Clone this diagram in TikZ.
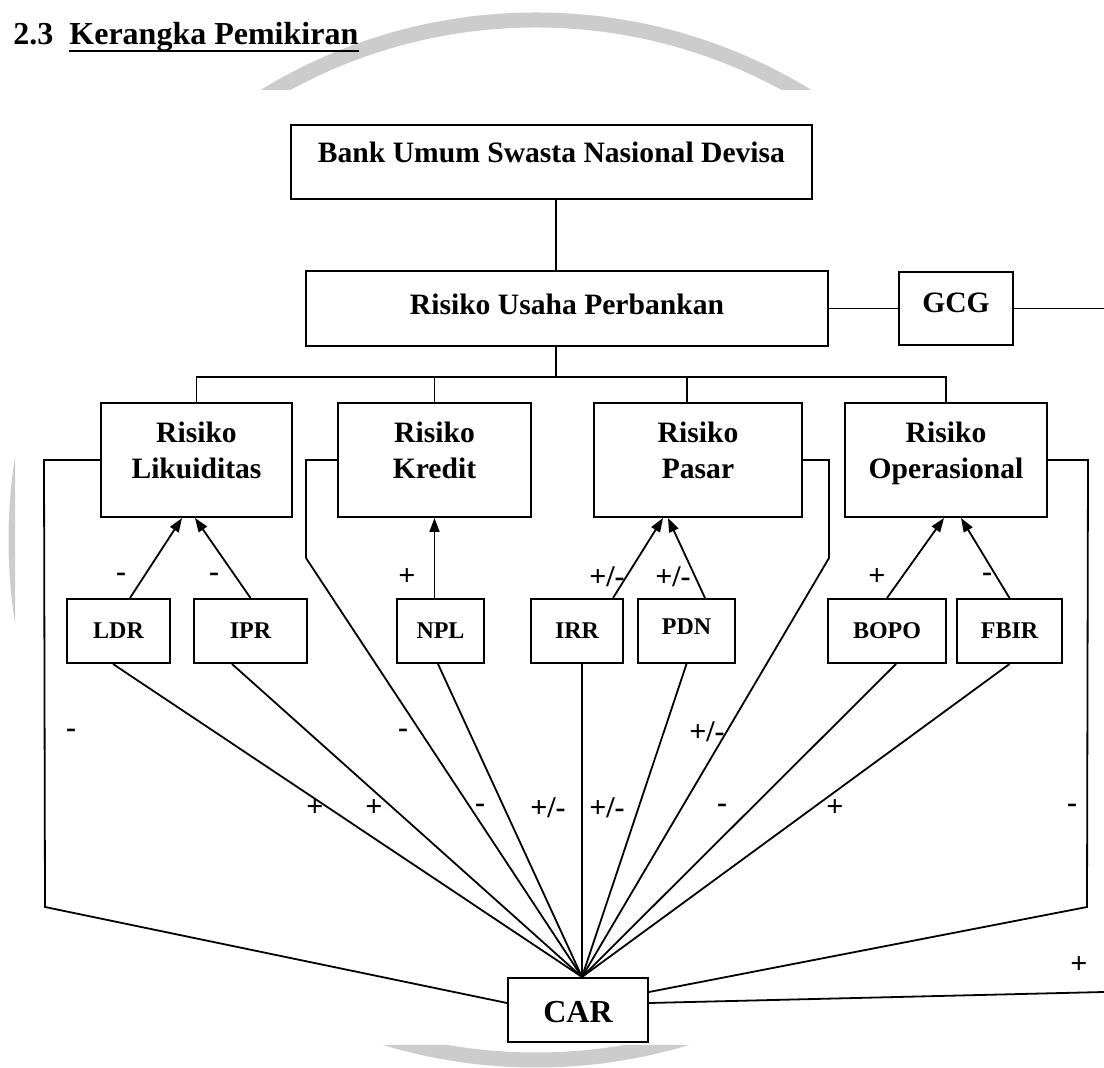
\documentclass[tikz,border=0pt]{standalone}
\usepackage{fontspec}
\setmainfont{Liberation Serif}
\usepackage{tikz}
\usetikzlibrary{arrows.meta,positioning}

\newcommand{\riskname}[2]{\begin{tabular}[b]{@{}c@{}}#1\\#2\end{tabular}}

\begin{document}
\begin{tikzpicture}[x=0.5pt, y=-0.5pt, every node/.style={font=\bfseries}, box/.style={draw,line width=1pt,inner sep=0pt,font=\bfseries\fontsize{14.8}{18}\selectfont}, riskbox/.style={box,minimum height=57pt,text height=30pt,text depth=11pt}, ratio/.style={draw,line width=1pt,inner sep=0pt,minimum height=32pt,text height=9.5pt,text depth=1.5pt,font=\bfseries\fontsize{12}{14}\selectfont}, sign/.style={inner sep=0pt,font=\bfseries\fontsize{15}{17}\selectfont}, link/.style={line width=0.9pt}, arr/.style={link,-{Triangle[length=7pt,width=5pt]}}, wm/.style={draw=black!20,line width=7.5pt}]
\fill[white] (0,0) rectangle (1104,1068);
\useasboundingbox (0,0) rectangle (1104,1068);
% watermark ring, only visible round the pasted figure
\begin{scope}
\clip (0,0) rectangle (1104,90) (0,1045) rectangle (1104,1068) (0,0) rectangle (15,1068);
\draw[wm] (536,540) circle[radius=260pt];
\end{scope}
% heading
\node[anchor=base west,inner sep=0pt,font=\bfseries\fontsize{16}{19}\selectfont] (secno) at (13,45) {2.3};
\node[anchor=base west,inner sep=0pt,font=\bfseries\fontsize{16}{19}\selectfont] (sectitle) at (69,45) {Kerangka Pemikiran};
\draw[line width=1.35pt] ([yshift=-3pt]sectitle.base west) -- ([yshift=-3pt]sectitle.base east);
% top of the tree
\node[box,minimum width=260.5pt,minimum height=37pt,text height=10pt,text depth=9pt] (bank) at (551.5,162) {Bank Umum Swasta Nasional Devisa};
\node[box,minimum width=261pt,minimum height=37.5pt,text height=11pt,text depth=4.5pt] (usaha) at (567,308.5) {Risiko Usaha Perbankan};
\node[box,minimum width=57pt,minimum height=36.5pt,text height=11pt,text depth=6.5pt,right=34.5pt of usaha] (gcg) {GCG};
% risk groups
\node[riskbox,minimum width=95.5pt] (lik) at (196.5,460) {\riskname{Risiko}{Likuiditas}};
\node[riskbox,minimum width=96.5pt] (kre) at (434.5,460) {\riskname{Risiko}{Kredit}};
\node[riskbox,minimum width=104pt] (pas) at (698,460) {\riskname{Risiko}{Pasar}};
\node[riskbox,minimum width=101pt] (ops) at (946,460) {\riskname{Risiko}{Operasional}};
% ratios
\node[ratio,minimum width=51.5pt] (ldr) at (118.5,631) {LDR};
\node[ratio,minimum width=56.5pt] (ipr) at (250.5,631) {IPR};
\node[ratio,minimum width=43.5pt] (npl) at (440.5,631) {NPL};
\node[ratio,minimum width=46pt] (irr) at (577,631) {IRR};
\node[ratio,minimum width=48.5pt,text height=9pt,text depth=5pt] (pdn) at (686.5,631) {PDN};
\node[ratio,minimum width=59pt] (bopo) at (887,631) {BOPO};
\node[ratio,minimum width=52.5pt] (fbir) at (1009.5,631) {FBIR};
\node[box,minimum width=70pt,minimum height=32pt,text height=13pt,text depth=0pt,font=\bfseries\fontsize{16}{19}\selectfont] (car) at (578,1010) {CAR};
\coordinate (trunk) at (556,377);
\coordinate (hub) at ([xshift=2pt]car.north);
\coordinate (lcorner) at (45,907);
\coordinate (rcorner) at (1087,907);
\coordinate (gcgout) at (1104,308.5);
\coordinate (carin) at (1104,992);
% tree lines
\draw[link] (bank.south -| trunk) -- (usaha.north -| trunk);
\draw[link] (usaha.south -| trunk) -- (trunk);
\draw[link] (lik.north) |- (trunk) -| (ops.north);
\draw[link] (kre.north) -- (kre.north |- trunk);
\draw[link] ([xshift=-5.5pt]pas.north) -- ([xshift=-5.5pt]pas.north |- trunk);
\draw[link] (usaha) -- (gcg);
\draw[link] (gcg) -- (gcgout);
% ratio -> risk
\draw[arr] ([xshift=5.75pt]ldr.north) -- ([xshift=-7.25pt]lik.south);
\draw[arr] (ipr.north) -- ([xshift=-0.75pt]lik.south);
\draw[arr] (npl.north -| kre.south) -- (kre.south);
\draw[arr] ([xshift=18pt]irr.north) -- ([xshift=-17.5pt]pas.south);
\draw[arr] ([xshift=9.25pt]pdn.north) -- ([xshift=-15pt]pas.south);
\draw[arr] (bopo.north) -- ([xshift=-1pt]ops.south);
\draw[arr] (fbir.north) -- ([xshift=7.5pt]ops.south);
% everything -> CAR
\draw[link] (lik.west) -- ++(-28pt,0) -- (lcorner) -- ([yshift=3.5pt]car.west);
\draw[link] ([xshift=-2.75pt]ldr.south) -- (hub);
\draw[link] ([xshift=-9.25pt]ipr.south) -- (hub);
\draw[link] (kre.west) -- ++(-15.5pt,0) -- ++(0,-49pt) -- (hub);
\draw[link] ([xshift=-1.25pt]npl.south) -- (hub);
\draw[link] (irr.south -| hub) -- (hub);
\draw[link] (pdn.south) -- (hub);
\draw[link] (pas.east) -- ++(13pt,0) -- ++(0,-49pt) -- (hub);
\draw[link] ([xshift=4.5pt]bopo.south) -- (hub);
\draw[link] (fbir.south) -- (hub);
\draw[link] (ops.east) -- ++(20pt,0) -- (rcorner) -- ([yshift=9pt]car.east);
\draw[link] ([yshift=3.5pt]car.east) -- (carin);
% signs
\node[sign] (sgnldr) at (121,577) {-};
\node[sign] (sgnipr) at (214,577) {-};
\node[sign] (sgnnpl) at (407,577) {+};
\node[sign] (sgnirr) at (607,577) {+/-};
\node[sign] (sgnpdn) at (673,577) {+/-};
\node[sign] (sgnbopo) at (877,577) {+};
\node[sign] (sgnfbir) at (987,577) {-};
\node[sign] (carlik) at (71,733) {-};
\node[sign] (carkre) at (403,733) {-};
\node[sign] (carpas) at (707,732) {+/-};
\node[sign] (carldr) at (315,808) {+};
\node[sign] (caripr) at (374,808) {+};
\node[sign] (carnpl) at (480,808) {-};
\node[sign] (carirr) at (548,808) {+/-};
\node[sign] (carpdn) at (607,808) {+/-};
\node[sign] (carbopo) at (722,808) {-};
\node[sign] (carfbir) at (835,808) {+};
\node[sign] (carops) at (1072,808) {-};
\node[sign] (cargcg) at (1079,965) {+};
\end{tikzpicture}
\end{document}
